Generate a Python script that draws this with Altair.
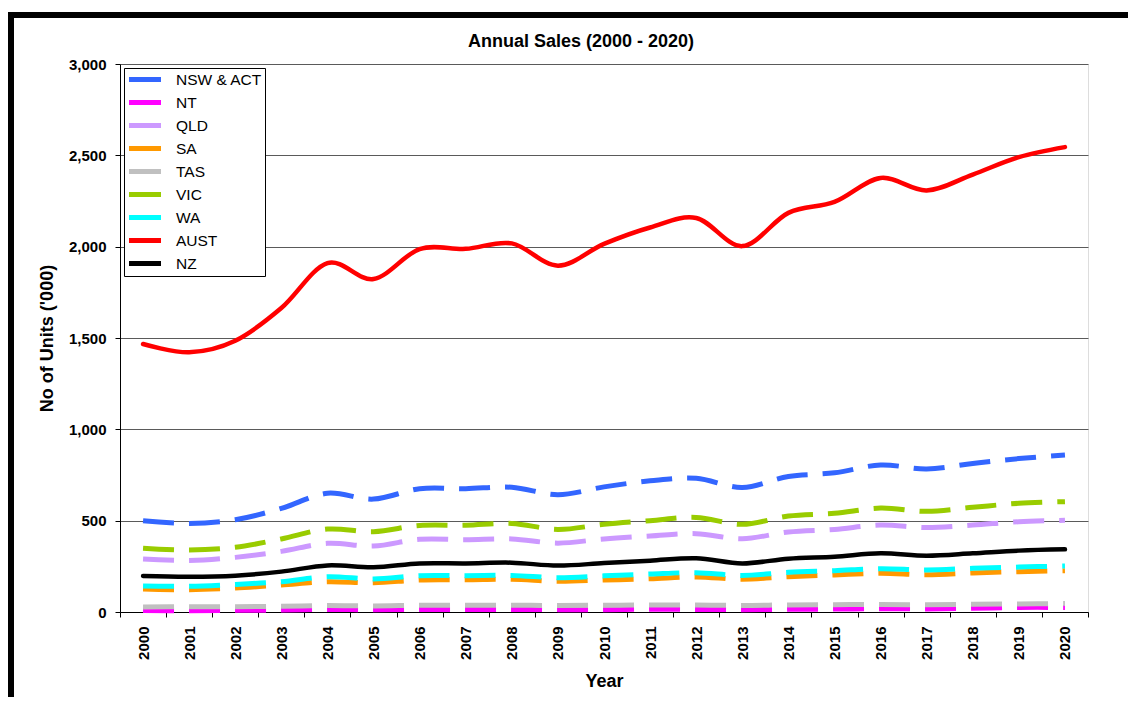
import altair as alt
import pandas as pd

years = ["2000", "2001", "2002", "2003", "2004", "2005", "2006", "2007", "2008", "2009", "2010",
         "2011", "2012", "2013", "2014", "2015", "2016", "2017", "2018", "2019", "2020"]

nsw_act = [500, 485, 505, 567, 650, 618, 675, 675, 683, 642, 685, 718, 732, 682, 742, 762, 805, 783, 813, 840, 859]
nt = [8, 7, 9, 11, 14, 12, 14, 14, 14, 13, 13, 15, 14, 13, 15, 16, 18, 17, 20, 25, 25]
qld = [290, 282, 299, 332, 376, 361, 398, 396, 400, 377, 400, 416, 429, 401, 438, 452, 476, 462, 476, 494, 502]
sa = [126, 122, 131, 148, 166, 160, 175, 176, 179, 168, 175, 182, 192, 179, 193, 203, 212, 204, 214, 221, 226]
tas = [28, 29, 29, 31, 36, 33, 37, 37, 37, 36, 37, 38, 38, 36, 39, 40, 41, 40, 42, 44, 46]
vic = [349, 339, 354, 400, 454, 440, 474, 475, 485, 452, 480, 500, 518, 480, 525, 540, 569, 551, 573, 595, 604]
wa = [142, 141, 151, 166, 193, 181, 199, 199, 200, 188, 198, 208, 215, 200, 217, 226, 237, 230, 239, 246, 252]
aust = [1467, 1422, 1485, 1664, 1910, 1823, 1987, 1988, 2018, 1896, 2015, 2105, 2157, 2003, 2185, 2245, 2376, 2308, 2395, 2490, 2545]
nz = [197, 193, 199, 221, 255, 245, 266, 266, 270, 254, 268, 281, 294, 266, 292, 303, 321, 308, 321, 336, 343]

series_names = ["NSW & ACT", "NT", "QLD", "SA", "TAS", "VIC", "WA", "AUST", "NZ"]
series_colors = ["#3366FF", "#FF00FF", "#CC99FF", "#FF9900", "#C0C0C0", "#99CC00", "#00FFFF", "#FF0000", "#000000"]
dashed_series = ["NSW & ACT", "NT", "QLD", "SA", "TAS", "VIC", "WA"]
solid_series = ["AUST", "NZ"]
y_ticks = [0, 500, 1000, 1500, 2000, 2500, 3000]

values_by_series = [nsw_act, nt, qld, sa, tas, vic, wa, aust, nz]
rows = []
for name, vals in zip(series_names, values_by_series):
    for yr, v in zip(years, vals):
        rows.append({"Year": yr, "Series": name, "Value": v})
df = pd.DataFrame(rows)

FONT = "Liberation Sans"

base = alt.Chart(df).encode(
    x=alt.X("Year:O", sort=years,
            scale=alt.Scale(type="band", paddingInner=0, paddingOuter=0),
            axis=alt.Axis(title="Year", labelAngle=270, labelFontSize=15, labelFontWeight="bold",
                          labelFont=FONT, labelColor="black", labelPadding=9,
                          tickBand="extent", tickSize=5, tickColor="black", domainColor="black",
                          titleFont=FONT, titleFontSize=18, titleFontWeight="bold", titleColor="black",
                          titlePadding=13, grid=False)),
    y=alt.Y("Value:Q", scale=alt.Scale(domain=[0, 3000], nice=False),
            axis=alt.Axis(title="No of Units ('000)", values=y_ticks, format=",.0f",
                          labelFontSize=15, labelFontWeight="bold", labelFont=FONT, labelColor="black",
                          labelPadding=9, tickSize=5, tickColor="black", domainColor="black",
                          grid=True, gridColor="#5a5a5a", gridWidth=1,
                          titleFont=FONT, titleFontSize=18, titleFontWeight="bold", titleColor="black",
                          titlePadding=12)),
    color=alt.Color("Series:N",
                    scale=alt.Scale(domain=series_names, range=series_colors),
                    sort=series_names,
                    legend=alt.Legend(title=None, orient="none", legendX=4, legendY=4,
                                      labelFont=FONT, labelFontSize=15.5, labelColor="black",
                                      fillColor="white", strokeColor="black", padding=2,
                                      rowPadding=2, symbolType="M-0.93,0H3.64", symbolSize=196,
                                      symbolStrokeWidth=5, labelOffset=31, symbolDash=[1, 0])),
)

dashed = base.transform_filter(
    alt.FieldOneOfPredicate(field="Series", oneOf=dashed_series)
).mark_line(interpolate="cardinal", strokeDash=[31, 15], strokeWidth=5, strokeCap="butt")

solid = base.transform_filter(
    alt.FieldOneOfPredicate(field="Series", oneOf=solid_series)
).mark_line(interpolate="cardinal", strokeWidth=4.5, strokeCap="round")

frame_df = pd.DataFrame({"k": [0]})
frame_left = alt.Chart(frame_df).mark_rule(color="black", strokeWidth=6).encode(
    x=alt.value(-109), y=alt.value(-52), y2=alt.value(640))
frame_top = alt.Chart(frame_df).mark_rule(color="black", strokeWidth=6).encode(
    x=alt.value(-112), x2=alt.value(1010), y=alt.value(-49))

chart = alt.layer(dashed, solid, frame_left, frame_top).properties(
    width=968, height=548,
    padding={"left": 112, "top": 56, "right": 40, "bottom": 85},
    autosize=alt.AutoSizeParams(type="none"),
    title=alt.TitleParams("Annual Sales (2000 - 2020)", font=FONT, fontSize=18, fontWeight="bold",
                          color="black", anchor="middle", dx=-23, dy=54, offset=12),
).configure_view(stroke="#8c8c8c", strokeWidth=1).configure(background="white")

chart.save("out.html", embed_options={"renderer": "svg", "actions": False})
